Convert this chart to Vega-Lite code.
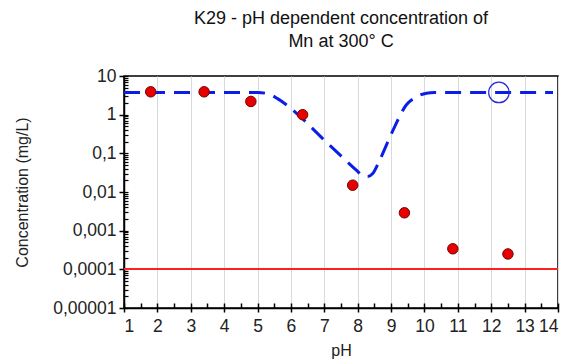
{
  "$schema": "https://vega.github.io/schema/vega-lite/v6.json",
  "width": 434,
  "height": 232,
  "autosize": {"type": "none"},
  "padding": {"left": 124, "top": 76, "right": 12, "bottom": 54},
  "background": "white",
  "config": {
    "font": "Liberation Sans",
    "view": {"stroke": "black", "strokeWidth": 1.5},
    "axis": {
      "labelFont": "Liberation Sans", "titleFont": "Liberation Sans",
      "labelFontSize": 17.5, "titleFontSize": 16, "labelColor": "#222", "titleColor": "#222",
      "titleFontWeight": "normal", "gridColor": "#d9d9d9", "gridWidth": 1, "labelOverlap": false,
      "domainColor": "black", "domainWidth": 1.5, "tickColor": "black", "tickWidth": 1.5
    }
  },
  "resolve": {"axis": {"x": "independent", "y": "independent"}},
  "title": {
    "text": ["K29 - pH dependent concentration of", "Mn at 300° C"],
    "fontSize": 18, "fontWeight": "normal", "font": "Liberation Sans", "color": "#111",
    "anchor": "middle", "offset": 16, "lineHeight": 23
  },
  "datasets": {
    "model": [
      {"pH": 1.0, "c": 3.75}, {"pH": 5.0, "c": 3.75}, {"pH": 5.3, "c": 3.5},
      {"pH": 5.6, "c": 2.6}, {"pH": 5.9, "c": 1.7}, {"pH": 6.27, "c": 0.9},
      {"pH": 7.0, "c": 0.22}, {"pH": 8.0, "c": 0.034}, {"pH": 8.15, "c": 0.026},
      {"pH": 8.3, "c": 0.025}, {"pH": 8.45, "c": 0.03}, {"pH": 8.66, "c": 0.067},
      {"pH": 9.06, "c": 0.4}, {"pH": 9.46, "c": 1.8}, {"pH": 9.76, "c": 2.9},
      {"pH": 10.06, "c": 3.6}, {"pH": 10.3, "c": 3.75}, {"pH": 13.85, "c": 3.75}
    ],
    "measured": [
      {"pH": 1.8, "c": 3.9}, {"pH": 3.4, "c": 3.9}, {"pH": 4.8, "c": 2.2},
      {"pH": 6.35, "c": 1.0}, {"pH": 7.85, "c": 0.015}, {"pH": 9.4, "c": 0.0029},
      {"pH": 10.85, "c": 0.00034}, {"pH": 12.5, "c": 0.00025}
    ],
    "marker": [{"pH": 12.23, "c": 3.75}]
  },
  "layer": [
    {
      "data": {"name": "model"},
      "mark": {"type": "rule", "color": "#ff2020", "strokeWidth": 1.5},
      "encoding": {
        "y": {"datum": 0.0001, "type": "quantitative",
          "scale": {"type": "log", "domain": [0.00001, 10], "nice": false},
          "axis": {"orient": "left", "title": "Concentration (mg/L)", "values": [0.00001, 0.0001, 0.001, 0.01, 0.1, 1, 10],
            "labelExpr": "replace(format(datum.value, '~g'), '.', ',')", "tickSize": 5, "labelPadding": 3, "titlePadding": 22}}
      }
    },
    {
      "data": {"name": "model"},
      "mark": {"type": "line", "color": "#0a1ee8", "strokeWidth": 3, "strokeDash": [16, 9], "interpolate": "monotone"},
      "encoding": {
        "x": {"field": "pH", "type": "quantitative",
          "scale": {"domain": [1, 14], "nice": false},
          "axis": {"orient": "bottom", "title": "pH", "values": [1,2,3,4,5,6,7,8,9,10,11,12,13,14], "tickSize": 4, "labelPadding": 5, "titlePadding": 8}},
        "y": {"field": "c", "type": "quantitative", "axis": null}
      }
    },
    {
      "data": {"name": "measured"},
      "mark": {"type": "point", "filled": true, "fill": "#e60000", "stroke": "#7a0000", "strokeWidth": 1, "size": 110, "opacity": 1},
      "encoding": {
        "x": {"field": "pH", "type": "quantitative",
          "axis": {"orient": "bottom", "title": null, "labels": false, "grid": false, "domain": false, "tickSize": -5, "offset": 0,
            "values": [1,1.5,2,2.5,3,3.5,4,4.5,5,5.5,6,6.5,7,7.5,8,8.5,9,9.5,10,10.5,11,11.5,12,12.5,13,13.5,14]}},
        "y": {"field": "c", "type": "quantitative",
          "axis": {"orient": "left", "title": null, "labels": false, "grid": false, "domain": false, "tickSize": -4, "tickWidth": 1.2, "offset": 0,
            "values": [0.00001,0.00002,0.00003,0.00004,0.00005,0.00006,0.00007,0.00008,0.00009,
                       0.0001,0.0002,0.0003,0.0004,0.0005,0.0006,0.0007,0.0008,0.0009,
                       0.001,0.002,0.003,0.004,0.005,0.006,0.007,0.008,0.009,
                       0.01,0.02,0.03,0.04,0.05,0.06,0.07,0.08,0.09,
                       0.1,0.2,0.3,0.4,0.5,0.6,0.7,0.8,0.9,
                       1,2,3,4,5,6,7,8,9,10]}}
      }
    },
    {
      "data": {"name": "marker"},
      "mark": {"type": "point", "filled": false, "stroke": "#2a2ad8", "strokeWidth": 1.2, "size": 420, "opacity": 1},
      "encoding": {
        "x": {"field": "pH", "type": "quantitative", "axis": null},
        "y": {"field": "c", "type": "quantitative", "axis": null}
      }
    }
  ]
}
